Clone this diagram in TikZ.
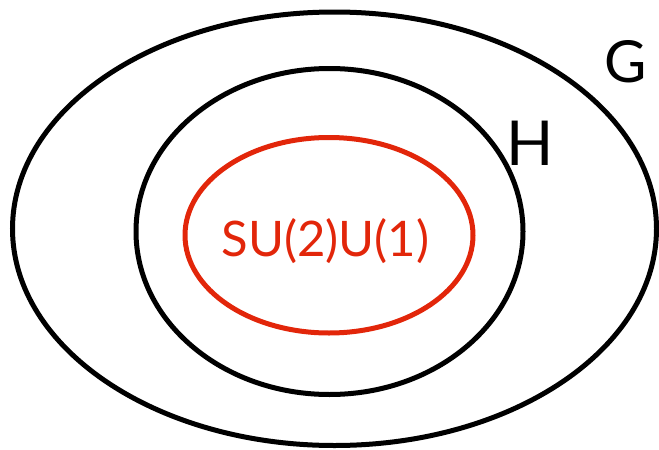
\documentclass[tikz,border=0pt]{standalone}
\usepackage{fontspec}
\setmainfont{Lato}
\usetikzlibrary{calc}
\definecolor{akai}{RGB}{226,38,10}
\begin{document}
\begin{tikzpicture}[x=1pt,y=-1pt]
            \useasboundingbox(0,0)rectangle(659,450);
            \coordinate(OG)at(334.5,228.75);
            \coordinate(OH)at(329.5,231.5);
            \coordinate(OS)at(329,235.25);
            %G
            \path[draw,line width=5pt](OG)ellipse[x radius=322pt,y radius=216.75pt];
            \node[anchor=base,inner sep=0pt,font=\fontsize{58}{58}\selectfont](G)at(626,82){G};
            %H
            \path[draw,line width=5pt](OH)ellipse[x radius=193.5pt,y radius=163pt];
            \node[anchor=base,inner sep=0pt,font=\fontsize{62}{62}\selectfont](H)at(530.5,165){H};
            %SU(2)U(1)
            \path[draw,akai,line width=5pt](OS)ellipse[x radius=144pt,y radius=97.75pt];
            \node[anchor=base,inner sep=0pt,text=akai,font=\fontsize{49}{49}\selectfont](S)at(325.5,256.5){SU(2)U(1)};
        \end{tikzpicture}
\end{document}
